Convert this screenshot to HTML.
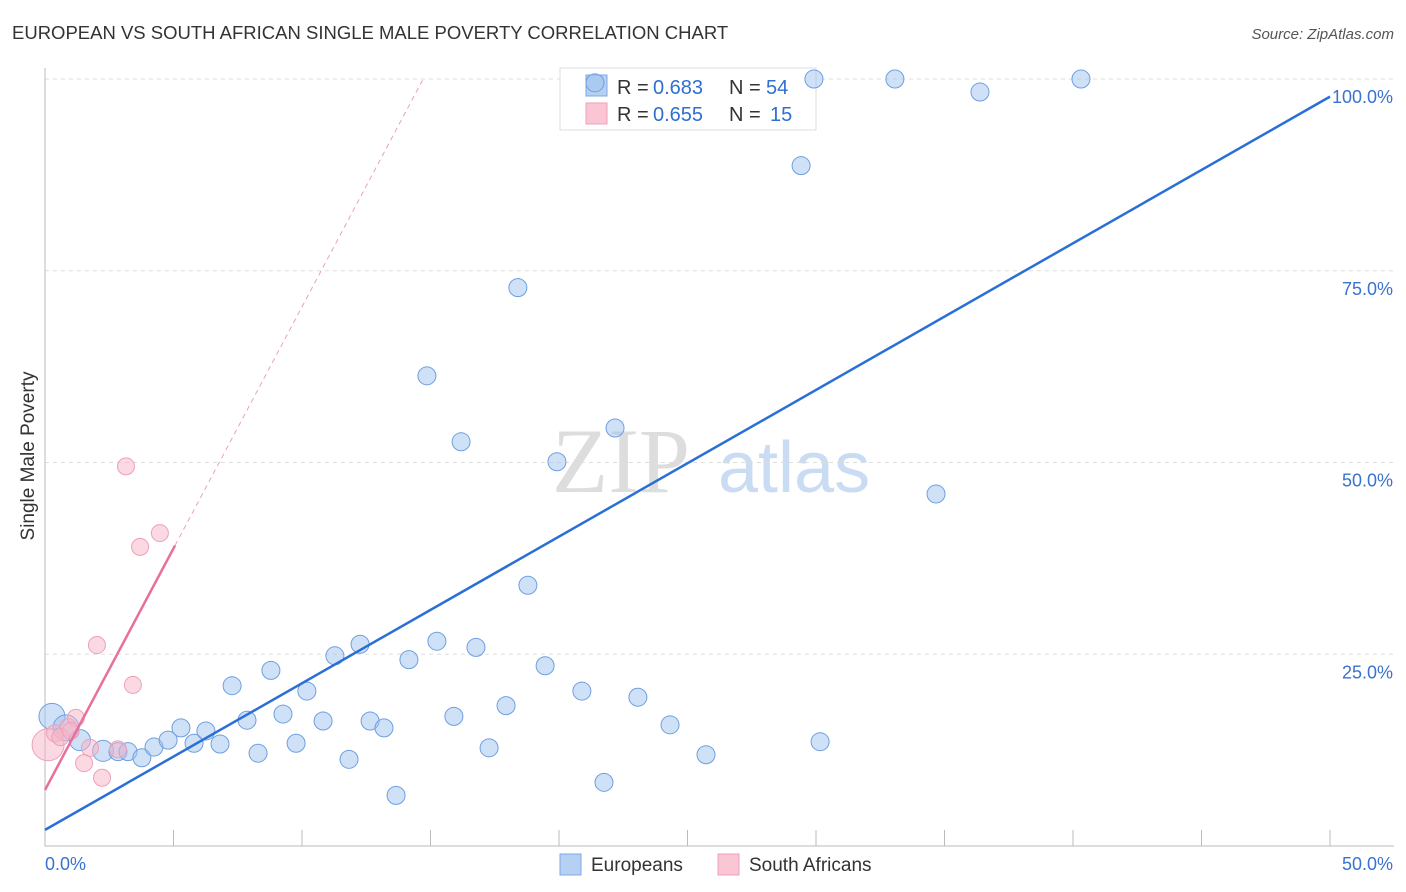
<!DOCTYPE html>
<html><head><meta charset="utf-8"><style>
body{margin:0;background:#fff;font-family:"Liberation Sans",sans-serif;}
svg{display:block}
</style></head><body>
<svg id="chart" width="1406" height="892" xmlns="http://www.w3.org/2000/svg">
<text x="12" y="39" font-size="18.5" fill="#333">EUROPEAN VS SOUTH AFRICAN SINGLE MALE POVERTY CORRELATION CHART</text>
<text x="1394" y="39" font-size="15" fill="#555" font-style="italic" text-anchor="end">Source: ZipAtlas.com</text>
<text x="34" y="456" font-size="19" fill="#333" text-anchor="middle" transform="rotate(-90 34 456)">Single Male Poverty</text>
<g><text x="552" y="492" font-size="92" font-family="Liberation Serif,serif" fill="#ddd">ZIP</text><text x="718" y="492" font-size="72" fill="#c9dcf4">atlas</text></g>
<g id="grid"></g>
<g>
<rect x="560" y="68" width="256" height="62" fill="#fff" stroke="#ddd"/>
<rect x="586" y="75" width="21" height="21" fill="#b6d0f4" stroke="#7fa8e6"/>
<rect x="586" y="103" width="21" height="21" fill="#fac6d4" stroke="#eea0b8"/>
<text x="617" y="94" font-size="20" fill="#333">R = </text><text x="653" y="94" font-size="20" fill="#2f6fd0">0.683</text>
<text x="729" y="94" font-size="20" fill="#333">N = </text><text x="766" y="94" font-size="20" fill="#2f6fd0">54</text>
<text x="617" y="121" font-size="20" fill="#333">R = </text><text x="653" y="121" font-size="20" fill="#2f6fd0">0.655</text>
<text x="729" y="121" font-size="20" fill="#333">N = </text><text x="770" y="121" font-size="20" fill="#2f6fd0">15</text>
</g>
<g id="marks"></g>
<g>
<rect x="560" y="854" width="21" height="21" fill="#b6d0f4" stroke="#7fa8e6"/>
<text x="591" y="871" font-size="19" fill="#333">Europeans</text>
<rect x="718" y="854" width="21" height="21" fill="#fac6d4" stroke="#eea0b8"/>
<text x="749" y="871" font-size="19" fill="#333">South Africans</text>
</g>
</svg>
<script>
const yTicks=[25,50,75,100];
const yTickLabels=["25.0%","50.0%","75.0%","100.0%"];
const xTickLabels=["0.0%","50.0%"];
const euX=[0.27,0.82,1.36,2.26,2.84,3.23,3.77,4.24,4.79,5.29,5.80,6.26,6.81,7.28,7.86,8.29,8.79,9.26,9.77,10.19,10.82,11.28,11.83,12.26,12.65,13.19,13.66,14.16,14.86,15.25,15.91,16.19,16.77,17.28,17.94,18.40,18.79,19.46,19.92,20.89,21.75,22.18,23.07,24.32,25.72,29.42,29.92,30.16,33.07,34.67,36.38,40.31,21.40];
const euY=[16.9,15.4,13.8,12.4,12.3,12.3,11.5,12.9,13.8,15.4,13.4,15.0,13.3,20.9,16.4,12.1,22.9,17.2,13.4,20.2,16.3,24.8,11.3,26.3,16.3,15.4,6.6,24.3,61.3,26.7,16.9,52.7,25.9,12.8,18.3,72.8,34.0,23.5,50.1,20.2,8.3,54.5,19.4,15.8,11.9,88.7,100,13.6,100,45.9,98.3,100,99.5];
const saX=[0.12,0.39,0.9,1.2,1.75,1.52,2.22,2.02,2.84,3.15,3.42,3.70,4.47,0.6,1.0];
const saY=[13.2,14.7,15.5,16.7,12.8,10.8,8.9,26.2,12.6,49.5,21.0,39.0,40.8,14.2,15.0];
const euTrend=[2.1,97.7];
const saTrend=[7.3,6.3];
const X=v=>45+v*25.7, Y=v=>846-v*7.67;
const NS="http://www.w3.org/2000/svg";
const g=document.getElementById('grid'), m=document.getElementById('marks');
function el(t,a,p){const e=document.createElementNS(NS,t);for(const k in a)e.setAttribute(k,a[k]);p.appendChild(e);return e;}
yTicks.forEach((t,i)=>{
 const l=el('line',{x1:45,x2:1394,y1:Y(t),y2:Y(t),stroke:'#ddd','stroke-dasharray':'4,4'},g);
 
 
 const tx=el('text',{x:1393,y:Y(t)+24,'font-size':18,fill:'#3a72d0','text-anchor':'end'},g);
 tx.textContent=yTickLabels[i];
 
 
});
const ax=el('path',{d:'M45 68V846H1394',fill:'none',stroke:'#bbb'},g);


for(let i=1;i<=10;i++){const t=el('line',{x1:X(i*5),x2:X(i*5),y1:830,y2:846,stroke:'#bbb'},g);
 
 }
[[0,45,'start'],[50,1393,'end']].forEach((d,i)=>{const tx=el('text',{x:d[1],y:870,'font-size':18,fill:'#3a72d0','text-anchor':d[2]},g);tx.textContent=xTickLabels[i];
 
 });
euX.forEach((x,i)=>{const r=i<2?13:(i<4?10.5:9);
 const c=el('circle',{cx:X(x),cy:Y(euY[i]),r:r,fill:'rgba(160,195,240,0.5)',stroke:'#6f9fe0','stroke-width':1},m);
 
 });
saX.forEach((x,i)=>{const r=i==0?16:8.5;
 const c=el('circle',{cx:X(x),cy:Y(saY[i]),r:r,fill:'rgba(248,180,200,0.5)',stroke:'#eea0b8','stroke-width':1},m);
 
 });
const bl=el('line',{x1:X(0),y1:Y(euTrend[0]),x2:X(50),y2:Y(euTrend[1]),stroke:'#2a6fd6','stroke-width':2.5},m);


const pl=el('line',{x1:X(0),y1:Y(saTrend[0]),x2:X(5.06),y2:Y(saTrend[0]+saTrend[1]*5.06),stroke:'#e8709a','stroke-width':2.5},m);


const xe=(100-saTrend[0])/saTrend[1];
const pd=el('line',{x1:X(5.06),y1:Y(saTrend[0]+saTrend[1]*5.06),x2:X(xe),y2:Y(100),stroke:'#eea0b8','stroke-width':1,'stroke-dasharray':'5,4'},m);


</script>
</body></html>
